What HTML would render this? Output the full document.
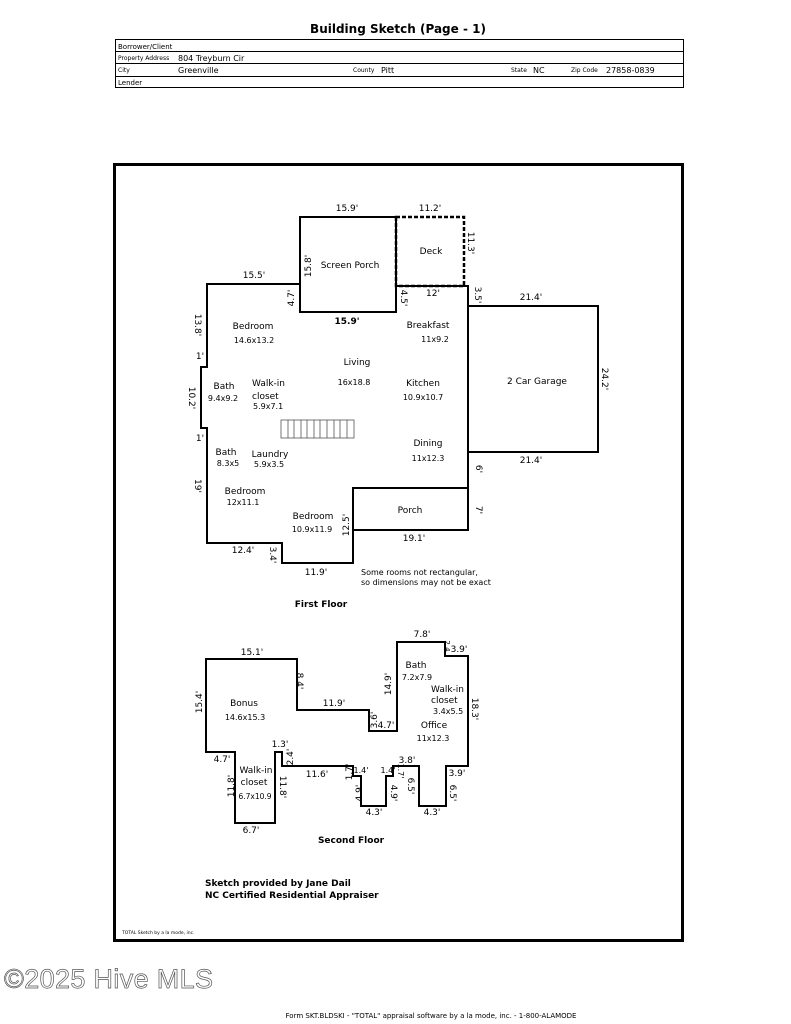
<!DOCTYPE html>
<html><head><meta charset="utf-8"><style>
html,body{margin:0;padding:0;background:#fff;}
svg{display:block}
text{font-family:"DejaVu Sans","Liberation Sans",sans-serif;fill:#000}
</style></head><body>
<svg width="791" height="1024" viewBox="0 0 791 1024" xmlns="http://www.w3.org/2000/svg">
<text x="398" y="33" font-size="12" font-weight="bold" text-anchor="middle" font-family="Liberation Sans">Building Sketch (Page - 1)</text>
<g stroke="#000" fill="none" stroke-width="1">
<rect x="115.5" y="39.5" width="568" height="48"/>
<line x1="115" y1="51.5" x2="684" y2="51.5"/>
<line x1="115" y1="63.5" x2="684" y2="63.5"/>
<line x1="115" y1="76.5" x2="684" y2="76.5"/>
</g>
<g font-family="Liberation Sans">
<text x="118" y="49" font-size="7">Borrower/Client</text>
<text x="118" y="60" font-size="6">Property Address</text>
<text x="178" y="61" font-size="8">804 Treyburn Cir</text>
<text x="118" y="72" font-size="6">City</text>
<text x="178" y="73" font-size="8">Greenville</text>
<text x="353" y="72" font-size="6">County</text>
<text x="381" y="73" font-size="8">Pitt</text>
<text x="511" y="72" font-size="6">State</text>
<text x="533" y="73" font-size="8">NC</text>
<text x="571" y="72" font-size="6">Zip Code</text>
<text x="606" y="73" font-size="8">27858-0839</text>
<text x="118" y="85" font-size="7">Lender</text>
</g>
<rect x="114.5" y="164.5" width="568" height="776" fill="none" stroke="#000" stroke-width="3"/>

<g stroke="#000" fill="none" stroke-width="2">
<rect x="300" y="217" width="96" height="95"/>
<rect x="396" y="217" width="68" height="69" stroke-dasharray="4,2" stroke-width="2.5"/>
<polyline points="300,284 207,284 207,367 201,367 201,428 207,428 207,543 282,543 282,563 353,563 353,488 468,488 468,286 396,286"/>
<rect x="353" y="488" width="115" height="42"/>
<rect x="468" y="306" width="130" height="146"/>
<polygon points="206,659 297,659 297,710 369,710 369,731 397,731 397,642 445,642 445,656 468,656 468,766 446,766 446,806 419,806 419,766 393,766 393,776 386,776 386,806 361,806 361,776 353,776 353,766 282,766 282,752 275,752 275,823 235,823 235,752 206,752"/>
</g>
<g stroke="#555" stroke-width="0.8" fill="none">
<rect x="281" y="420" width="73" height="18"/>
<path d="M288 420V438M294 420V438M301 420V438M307 420V438M314 420V438M320 420V438M327 420V438M334 420V438M340 420V438M347 420V438"/>
</g>

<g font-size="9">
<text x="347" y="211" text-anchor="middle">15.9'</text>
<text x="430" y="211" text-anchor="middle">11.2'</text>
<text x="254" y="278" text-anchor="middle">15.5'</text>
<text x="350" y="268" text-anchor="middle">Screen Porch</text>
<text x="431" y="254" text-anchor="middle">Deck</text>
<text x="347" y="324" text-anchor="middle" font-weight="bold">15.9'</text>
<text x="433" y="296" text-anchor="middle">12'</text>
<text x="531" y="300" text-anchor="middle">21.4'</text>
<text x="531" y="463" text-anchor="middle">21.4'</text>
<text x="253" y="329" text-anchor="middle">Bedroom</text>
<text x="254" y="343" text-anchor="middle" font-size="8">14.6x13.2</text>
<text x="428" y="328" text-anchor="middle">Breakfast</text>
<text x="435" y="342" text-anchor="middle" font-size="8">11x9.2</text>
<text x="357" y="365" text-anchor="middle">Living</text>
<text x="354" y="385" text-anchor="middle" font-size="8">16x18.8</text>
<text x="423" y="386" text-anchor="middle">Kitchen</text>
<text x="423" y="400" text-anchor="middle" font-size="8">10.9x10.7</text>
<text x="224" y="389" text-anchor="middle">Bath</text>
<text x="223" y="401" text-anchor="middle" font-size="8">9.4x9.2</text>
<text x="252" y="386">Walk-in</text>
<text x="252" y="399">closet</text>
<text x="253" y="409" font-size="8">5.9x7.1</text>
<text x="428" y="446" text-anchor="middle">Dining</text>
<text x="428" y="461" text-anchor="middle" font-size="8">11x12.3</text>
<text x="537" y="384" text-anchor="middle">2 Car Garage</text>
<text x="226" y="455" text-anchor="middle">Bath</text>
<text x="228" y="466" text-anchor="middle" font-size="8">8.3x5</text>
<text x="270" y="457" text-anchor="middle">Laundry</text>
<text x="269" y="467" text-anchor="middle" font-size="8">5.9x3.5</text>
<text x="245" y="494" text-anchor="middle">Bedroom</text>
<text x="243" y="505" text-anchor="middle" font-size="8">12x11.1</text>
<text x="313" y="519" text-anchor="middle">Bedroom</text>
<text x="312" y="532" text-anchor="middle" font-size="8">10.9x11.9</text>
<text x="410" y="513" text-anchor="middle">Porch</text>
<text x="414" y="541" text-anchor="middle">19.1'</text>
<text x="243" y="553" text-anchor="middle">12.4'</text>
<text x="316" y="575" text-anchor="middle">11.9'</text>
<text x="199" y="329" text-anchor="middle" transform="rotate(90 199 325)">13.8'</text>
<text x="200" y="359" text-anchor="middle">1'</text>
<text x="192" y="401" text-anchor="middle" transform="rotate(90 192 398)">10.2'</text>
<text x="200" y="441" text-anchor="middle">1'</text>
<text x="198" y="489" text-anchor="middle" transform="rotate(90 198 486)">19'</text>
<text x="273" y="558" text-anchor="middle" transform="rotate(90 273 555)">3.4'</text>
<text x="345" y="529" text-anchor="middle" transform="rotate(-90 345 525)">12.5'</text>
<text x="290" y="302" text-anchor="middle" transform="rotate(-90 290 298)">4.7'</text>
<text x="307" y="270" text-anchor="middle" transform="rotate(-90 307 266)">15.8'</text>
<text x="405" y="302" text-anchor="middle" transform="rotate(90 405 298)">4.5'</text>
<text x="471" y="246" text-anchor="middle" transform="rotate(90 471 243)">11.3'</text>
<text x="478" y="298" text-anchor="middle" transform="rotate(90 478 295)">3.5'</text>
<text x="605" y="382" text-anchor="middle" transform="rotate(90 605 379)">24.2'</text>
<text x="479" y="472" text-anchor="middle" transform="rotate(90 479 469)">6'</text>
<text x="479" y="513" text-anchor="middle" transform="rotate(90 479 510)">7'</text>
</g>
<g font-size="8">
<text x="361" y="575">Some rooms not rectangular,</text>
<text x="361" y="585">so dimensions may not be exact</text>
</g>
<text x="321" y="607" font-size="9" font-weight="bold" text-anchor="middle">First Floor</text>

<g font-size="9">
<text x="252" y="655" text-anchor="middle">15.1'</text>
<text x="244" y="706" text-anchor="middle">Bonus</text>
<text x="245" y="720" text-anchor="middle" font-size="8">14.6x15.3</text>
<text x="334" y="706" text-anchor="middle">11.9'</text>
<text x="422" y="637" text-anchor="middle">7.8'</text>
<text x="416" y="668" text-anchor="middle">Bath</text>
<text x="417" y="680" text-anchor="middle" font-size="8">7.2x7.9</text>
<text x="431" y="692">Walk-in</text>
<text x="431" y="703">closet</text>
<text x="433" y="714" font-size="8">3.4x5.5</text>
<text x="434" y="728" text-anchor="middle">Office</text>
<text x="433" y="741" text-anchor="middle" font-size="8">11x12.3</text>
<text x="386" y="728" text-anchor="middle">4.7'</text>
<text x="459" y="652" text-anchor="middle">3.9'</text>
<text x="280" y="747" text-anchor="middle">1.3'</text>
<text x="222" y="762" text-anchor="middle">4.7'</text>
<text x="256" y="773" text-anchor="middle">Walk-in</text>
<text x="254" y="785" text-anchor="middle">closet</text>
<text x="255" y="799" text-anchor="middle" font-size="7.5">6.7x10.9</text>
<text x="251" y="833" text-anchor="middle">6.7'</text>
<text x="317" y="777" text-anchor="middle">11.6'</text>
<text x="361" y="773" text-anchor="middle" font-size="8">1.4'</text>
<text x="388" y="773" text-anchor="middle" font-size="8">1.4'</text>
<text x="407" y="763" text-anchor="middle">3.8'</text>
<text x="374" y="815" text-anchor="middle">4.3'</text>
<text x="432" y="815" text-anchor="middle">4.3'</text>
<text x="457" y="776" text-anchor="middle">3.9'</text>
<text x="198" y="706" text-anchor="middle" transform="rotate(-90 198 702)">15.4'</text>
<text x="300" y="684" text-anchor="middle" transform="rotate(90 300 681)">8.4'</text>
<text x="387" y="688" text-anchor="middle" transform="rotate(-90 387 684)">14.9'</text>
<text x="373" y="724" text-anchor="middle" transform="rotate(-90 373 720)">3.6'</text>
<text x="475" y="712" text-anchor="middle" transform="rotate(90 475 709)">18.3'</text>
<text x="230" y="790" text-anchor="middle" transform="rotate(-90 230 786)">11.8'</text>
<text x="283" y="790" text-anchor="middle" transform="rotate(90 283 787)">11.8'</text>
<text x="289" y="761" text-anchor="middle" transform="rotate(-90 289 757)">2.4'</text>
<text x="348" y="776" text-anchor="middle" transform="rotate(-90 348 772)">1.7'</text>
<text x="358" y="797" text-anchor="middle" transform="rotate(-90 358 793)">4.9'</text>
<text x="395" y="797" text-anchor="middle" transform="rotate(90 395 793)">4.9'</text>
<text x="402" y="775" text-anchor="middle" transform="rotate(90 402 771)" font-size="8">1.7'</text>
<text x="411" y="789" text-anchor="middle" transform="rotate(90 411 786)">6.5'</text>
<text x="454" y="797" text-anchor="middle" transform="rotate(90 454 793)">6.5'</text>
<text x="448" y="649" text-anchor="middle" transform="rotate(90 448 646)" font-size="7">2.4</text>
</g>
<text x="351" y="843" font-size="9" font-weight="bold" text-anchor="middle">Second Floor</text>

<text x="205" y="886" font-size="9" font-weight="bold">Sketch provided by Jane Dail</text>
<text x="205" y="898" font-size="9" font-weight="bold">NC Certified Residential Appraiser</text>
<text x="122" y="934" font-size="4.5" font-family="Liberation Sans">TOTAL Sketch by a la mode, inc.</text>

<text x="4" y="988" font-size="27" textLength="209" style="fill:#ffffff;stroke:#555;stroke-width:0.7;font-family:'Liberation Sans',sans-serif">©2025 Hive MLS</text>
<text x="431" y="1018" font-size="7" font-family="Liberation Sans" text-anchor="middle">Form SKT.BLDSKI - "TOTAL" appraisal software by a la mode, inc. - 1-800-ALAMODE</text>
</svg>
</body></html>
